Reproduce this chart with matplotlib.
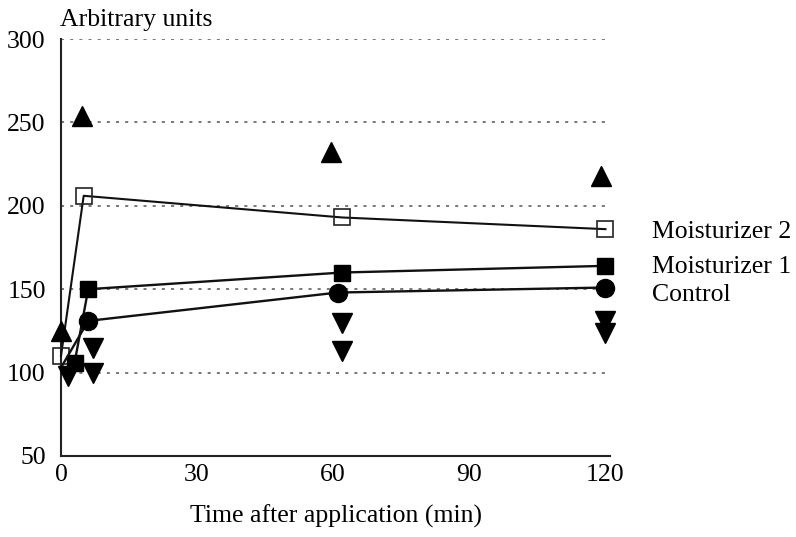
import matplotlib
matplotlib.use("Agg")
import matplotlib.pyplot as plt

# Data
m2_t = [0, 5, 62, 120]
m2_v = [110, 206, 193, 186]
m1_t = [3, 6, 62, 120]
m1_v = [106, 150, 160, 164]
ctrl_t = [0, 6, 61, 120]
ctrl_v = [103, 131, 148, 151]
up_t = [0, 4.6, 59.5, 119]
up_v = [125, 254, 232, 218]
down_t = [1.5, 7, 7, 62, 62, 120, 120]
down_v = [98, 115, 100, 130, 113, 131, 124]

xticks = [0, 30, 60, 90, 120]
yticks = [50, 100, 150, 200, 250, 300]
series_labels = ["Moisturizer 2", "Moisturizer 1", "Control"]

plt.rcParams['font.family'] = ['Liberation Serif', 'DejaVu Serif']
FS = 18.5

fig = plt.figure(figsize=(7.96, 5.37), dpi=100)
ax = fig.add_axes([61/796, 1-456/537, 549/796, 417/537])

ax.plot(m2_t, m2_v, color='#111', lw=1.5, marker='s', ms=12,
        mfc='none', mec='#222', mew=1.2, zorder=3, clip_on=False)
ax.plot(m1_t, m1_v, color='#111', lw=1.7, marker='s', ms=12,
        mfc='black', mec='black', zorder=3, clip_on=False)
ax.plot(ctrl_t, ctrl_v, color='#111', lw=1.7, marker='o', ms=13,
        mfc='black', mec='black', zorder=3, clip_on=False, markevery=[1, 2, 3])
ax.plot(up_t, up_v, ls='none', marker='^', ms=14, color='black', zorder=4, clip_on=False)
ax.plot(down_t, down_v, ls='none', marker='v', ms=14, color='black', zorder=4, clip_on=False)

ax.set_xlim(0, 121)
ax.set_ylim(50, 300)
ax.set_xticks(xticks)
ax.set_yticks(yticks)
ax.tick_params(axis='both', length=0, labelsize=FS)
ax.tick_params(axis='x', pad=6)
ax.tick_params(axis='y', pad=11)
for s in ['top', 'right']:
    ax.spines[s].set_visible(False)
for s in ['left', 'bottom']:
    ax.spines[s].set_linewidth(1.5)
    ax.spines[s].set_color('#222')
ax.yaxis.grid(True, color='#555', linestyle=(0, (2, 4)), lw=1.1)
ax.set_axisbelow(True)
ax.set_xlabel("Time after application (min)", fontsize=FS, labelpad=13)

fig.text(60/796, 1-20/537, "Arbitrary units", fontsize=FS, va='center', ha='left')

for lab, yv in zip(series_labels, [232, 267, 295]):
    fig.text(652/796, 1-yv/537, lab, fontsize=FS, va='center', ha='left')

fig.savefig("out.png", dpi=100)
